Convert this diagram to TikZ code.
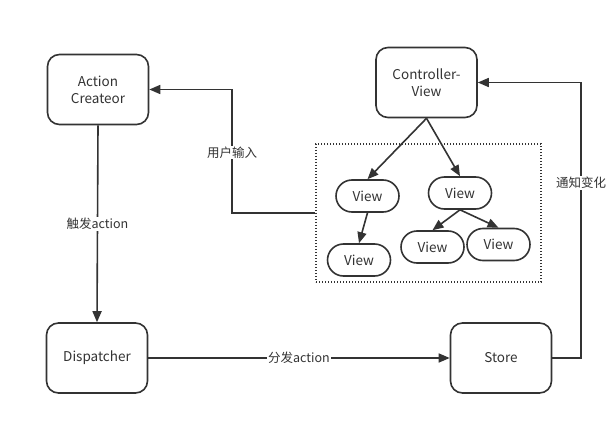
\documentclass[tikz,border=0pt]{standalone}
\usepackage{fontspec}
\setmainfont{Noto Sans CJK SC}
\usetikzlibrary{arrows.meta}
\definecolor{ln}{HTML}{333333}
\begin{document}
\begin{tikzpicture}[x=1pt,y=-1pt,
  box/.style={draw=ln, line width=1.6pt, rounded corners=12pt, minimum width=101pt, minimum height=70pt, align=center, text=ln, font=\fontsize{13.5}{17}\selectfont},
  viewbox/.style={draw=ln, line width=1.6pt, rounded corners=16pt, minimum width=63pt, minimum height=32pt, text=ln, font=\fontsize{13.5}{16}\selectfont},
  arr/.style={draw=ln, line width=1.6pt, -{Triangle[length=11pt,width=9pt]}},
  lbl/.style={fill=white, inner sep=1pt, text=ln, font=\fontsize{12.5}{14}\selectfont}]
\useasboundingbox (0,0) rectangle (612,425);
\fill[white] (0,0) rectangle (612,425);
\node[box] (ac) at (98,89.5) {Action\\Createor};
\node[box] (cv) at (426.5,82.5) {Controller-\\View};
\node[box] (dis) at (97,358) {Dispatcher};
\node[box] (st) at (501,358) {Store};
\node[draw=ln, line width=1.4pt, dash pattern=on 1.4pt off 1.6pt, minimum width=225pt, minimum height=138pt, inner sep=0pt] (grp) at (428.5,213) {};
\node[viewbox] (v1) at (367.5,196) {View};
\node[viewbox] (v2) at (359,260) {View};
\node[viewbox] (v3) at (460,193) {View};
\node[viewbox] (v4) at (432.5,247) {View};
\node[viewbox] (v5) at (498.5,244.5) {View};
\coordinate (l1) at (232,213);
\coordinate (l2) at (232,89.5);
\coordinate (r1) at (581,358);
\coordinate (r2) at (581,82.5);
\draw[arr] (ac.south) -- node[lbl]{触发action} (dis.north);
\draw[arr] (dis.east) -- node[lbl]{分发action} (st.west);
\draw[arr] (st.east) -- (r1) -- node[lbl,pos=0.635]{通知变化} (r2) -- (cv.east);
\draw[arr] (grp.west) -- (l1) -- node[lbl,pos=0.49]{用户输入} (l2) -- (ac.east);
\draw[arr] (cv.south) -- (v1.north);
\draw[arr] (cv.south) -- (v3.north);
\draw[arr] (v1.south) -- (v2.north);
\draw[arr] (v3.south) -- (v4.north);
\draw[arr] (v3.south) -- (v5.north);
\end{tikzpicture}
\end{document}
